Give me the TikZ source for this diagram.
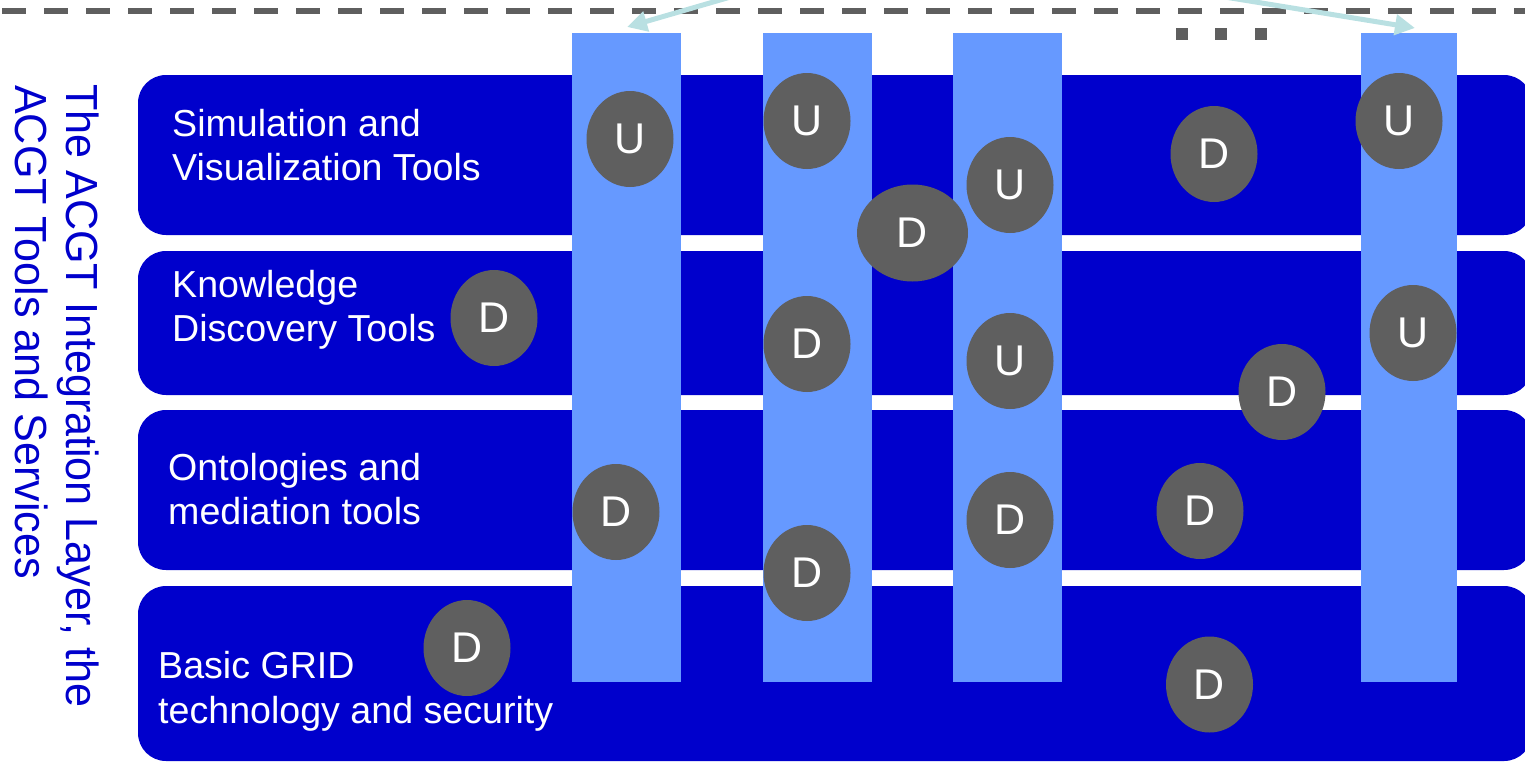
\documentclass[tikz,border=0pt]{standalone}
\usepackage{fontspec}
\setmainfont{Liberation Sans}
\usetikzlibrary{shapes.geometric,arrows.meta}
\definecolor{bandblue}{HTML}{0000CC}
\definecolor{colblue}{HTML}{6699FF}
\definecolor{compgray}{HTML}{5F5F5F}
\definecolor{feedcyan}{HTML}{B9E0E2}
\tikzset{
  band/.style={fill=bandblue, rounded corners=28pt, inner sep=0pt},
  colbar/.style={fill=colblue, inner sep=0pt, minimum height=649pt},
  comp/.style={ellipse, fill=compgray, text=white, inner sep=0pt,
    minimum width=87pt, minimum height=96pt, font=\fontsize{43}{50}\selectfont},
  lab/.style={text=white, anchor=base west, inner sep=0pt, font=\fontsize{37.6}{44}\selectfont},
  sidelab/.style={text=bandblue, anchor=base west, inner sep=0pt, rotate=-90,
    font=\fontsize{45}{52}\selectfont},
  feed/.style={draw=feedcyan, line width=5pt, -{Triangle[width=20pt,length=20pt]}},
  dashline/.style={draw=compgray, line width=6pt, dash pattern=on 24pt off 18pt},
  dotsq/.style={fill=compgray, inner sep=0pt, minimum size=12pt},
}
\begin{document}
\begin{tikzpicture}[x=1pt,y=-1pt]
\useasboundingbox (0,0) rectangle (1525,763);
\clip (0,0) rectangle (1525,763);

% top dashed boundary
\coordinate (dl) at (2,11.3);
\coordinate (dr) at (1530,11.3);
\draw[dashline] (dl) -- (dr);

% layer bands
\node[band, minimum width=1394pt, minimum height=160pt] (b1) at (835,155) {};
\node[band, minimum width=1394pt, minimum height=144pt] (b2) at (835,323) {};
\node[band, minimum width=1394pt, minimum height=160pt] (b3) at (835,490) {};
\node[band, minimum width=1394pt, minimum height=175pt] (b4) at (835,673.5) {};

% band labels
\node[lab] (l1a) at (172,136) {Simulation and};
\node[lab] (l1b) at (172,180) {Visualization Tools};
\node[lab] (l2a) at (172,297) {Knowledge};
\node[lab] (l2b) at (172,341) {Discovery Tools};
\node[lab] (l3a) at (168,480) {Ontologies and};
\node[lab] (l3b) at (168,524) {mediation tools};
\node[lab] (l4a) at (158,678) {Basic GRID};
\node[lab] (l4b) at (158,723) {technology and security};

% vertical columns
\node[colbar, minimum width=109pt] (c1) at (626.5,357.5) {};
\node[colbar, minimum width=109pt] (c2) at (817.5,357.5) {};
\node[colbar, minimum width=109pt] (c3) at (1007.5,357.5) {};
\node[colbar, minimum width=96pt] (c4) at (1409,357.5) {};

% dots
\node[dotsq] (q1) at (1182,34) {};
\node[dotsq] (q2) at (1221,34) {};
\node[dotsq] (q3) at (1261,34) {};

% feed arrows
\coordinate (s1) at (927,-60);
\coordinate (t1) at (627,27);
\coordinate (s2) at (875,-60);
\coordinate (t2) at (1415,28);
\draw[feed] (s1) -- (t1);
\draw[feed] (s2) -- (t2);

% components
\node[comp] (e1) at (630,139) {U};
\node[comp] (e2) at (807,121) {U};
\node[comp] (e3) at (1010,185) {U};
\node[comp] (e4) at (1214,154) {D};
\node[comp] (e5) at (1399,121) {U};
\node[comp, minimum width=111pt, minimum height=97pt] (e6) at (912.5,233) {D};
\node[comp] (e7) at (494,318) {D};
\node[comp] (e8) at (807,344) {D};
\node[comp] (e9) at (1010,361) {U};
\node[comp] (e10) at (1413,333) {U};
\node[comp] (e11) at (1282,392) {D};
\node[comp] (e12) at (616,512) {D};
\node[comp] (e13) at (1010,520) {D};
\node[comp] (e14) at (1200,511) {D};
\node[comp] (e15) at (807,573) {D};
\node[comp] (e16) at (467,648) {D};
\node[comp] (e17) at (1209.5,684.5) {D};

% side label
\node[sidelab] (v1) at (66,84) {\scalebox{0.958}[1]{The ACGT Integration Layer, the}};
\node[sidelab] (v2) at (15,85) {\scalebox{0.958}[1]{ACGT Tools and Services}};
\end{tikzpicture}
\end{document}
